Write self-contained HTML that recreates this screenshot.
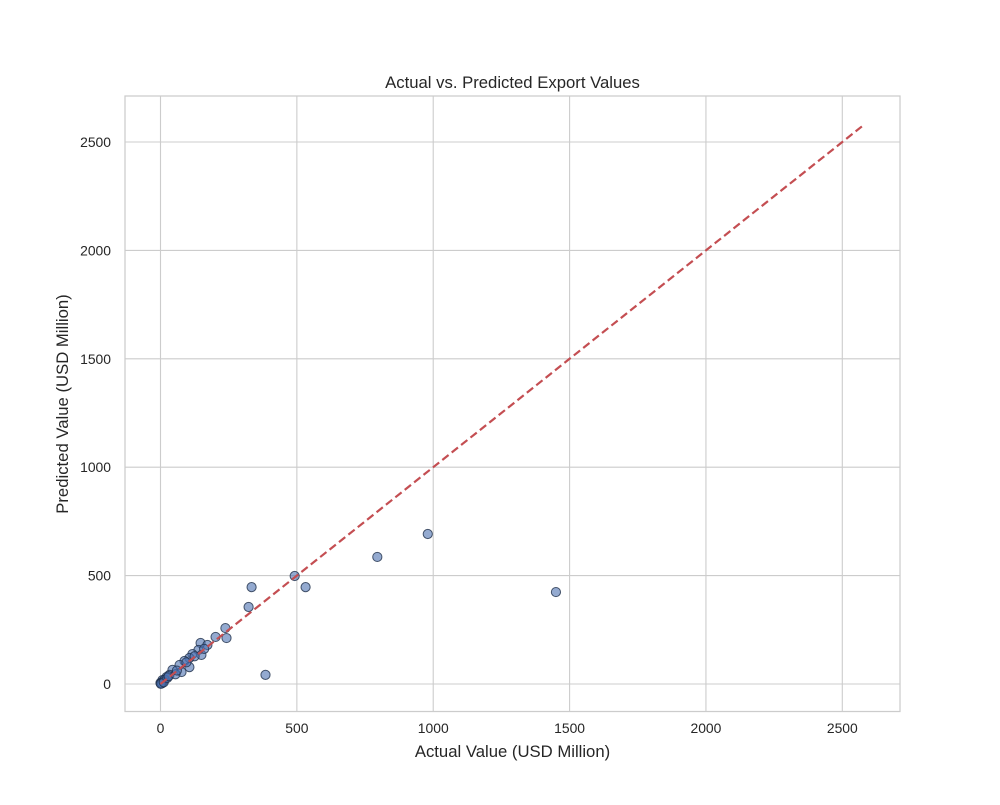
<!DOCTYPE html>
<html><head><meta charset="utf-8"><style>
body{margin:0;background:#fff;}
svg text{font-family:"Liberation Sans","Arial",sans-serif;fill:#262626;}
</style></head><body>
<svg id="chart" width="1000" height="800" viewBox="0 0 1000 800" xmlns="http://www.w3.org/2000/svg">
<rect width="1000" height="800" fill="#fff"/>
<g id="grid"></g>
<rect x="125" y="96" width="775" height="615.5" fill="none" stroke="#cccccc" stroke-width="1.25"/>
<g id="ticks"></g>
<g id="points"></g>
<line id="diag" stroke="#c44e52" stroke-width="2.2" stroke-dasharray="8,4"/>
<text x="512.5" y="88" text-anchor="middle" font-size="16.7">Actual vs. Predicted Export Values</text>
<text x="512.5" y="757" text-anchor="middle" font-size="16.7">Actual Value (USD Million)</text>
<text transform="translate(68,404) rotate(-90)" text-anchor="middle" font-size="16.7">Predicted Value (USD Million)</text>
</svg>
<script>
const xTicks=[0,500,1000,1500,2000,2500];
const yTicks=[0,500,1000,1500,2000,2500];
const actual=[1450,980,795,492,532,334,323,385,238,242,202,147,172,139,117,150,106,88,106,70,44,77,33,22,7,0,2,4,10,15,5,1,12,25,30,55,60,95,125,160];
const predicted=[424,692,586,498,447,447,355,42,258,212,217,189,180,157,138,134,120,106,78,88,65,55,42,32,18,5,2,6,12,20,3,1,8,28,36,45,62,100,128,162];
const lineEnd=2580;
const X=v=>160.5+v*0.27272;
const Y=v=>684-v*0.2168;
const NS="http://www.w3.org/2000/svg";
const grid=document.getElementById('grid'),ticks=document.getElementById('ticks'),pts=document.getElementById('points');
function mk(tag,attrs,parent){const e=document.createElementNS(NS,tag);for(const k in attrs)e.setAttribute(k,attrs[k]);parent.appendChild(e);return e;}
xTicks.forEach(t=>{
 const l=mk('line',{x1:X(t),x2:X(t),y1:96,y2:711.5,stroke:'#cccccc','stroke-width':1.1},grid);
 
 
 const tx=mk('text',{x:X(t),y:733,'text-anchor':'middle','font-size':13.9},ticks);
 tx.textContent=t;
 
 
});
yTicks.forEach(t=>{
 const l=mk('line',{x1:125,x2:900,y1:Y(t),y2:Y(t),stroke:'#cccccc','stroke-width':1.1},grid);
 
 
 const tx=mk('text',{x:111,y:Y(t)+5,'text-anchor':'end','font-size':13.9},ticks);
 tx.textContent=t;
 
 
});
actual.forEach((a,i)=>{
 const c=mk('circle',{cx:X(a),cy:Y(predicted[i]),r:4.6,fill:'rgba(76,114,176,0.6)',stroke:'#1f2f4a','stroke-opacity':0.8,'stroke-width':1},pts);
 
 
});
const d=document.getElementById('diag');
d.setAttribute('x1',X(0));d.setAttribute('y1',Y(0));d.setAttribute('x2',X(lineEnd));d.setAttribute('y2',Y(lineEnd));
</script>
</body></html>
